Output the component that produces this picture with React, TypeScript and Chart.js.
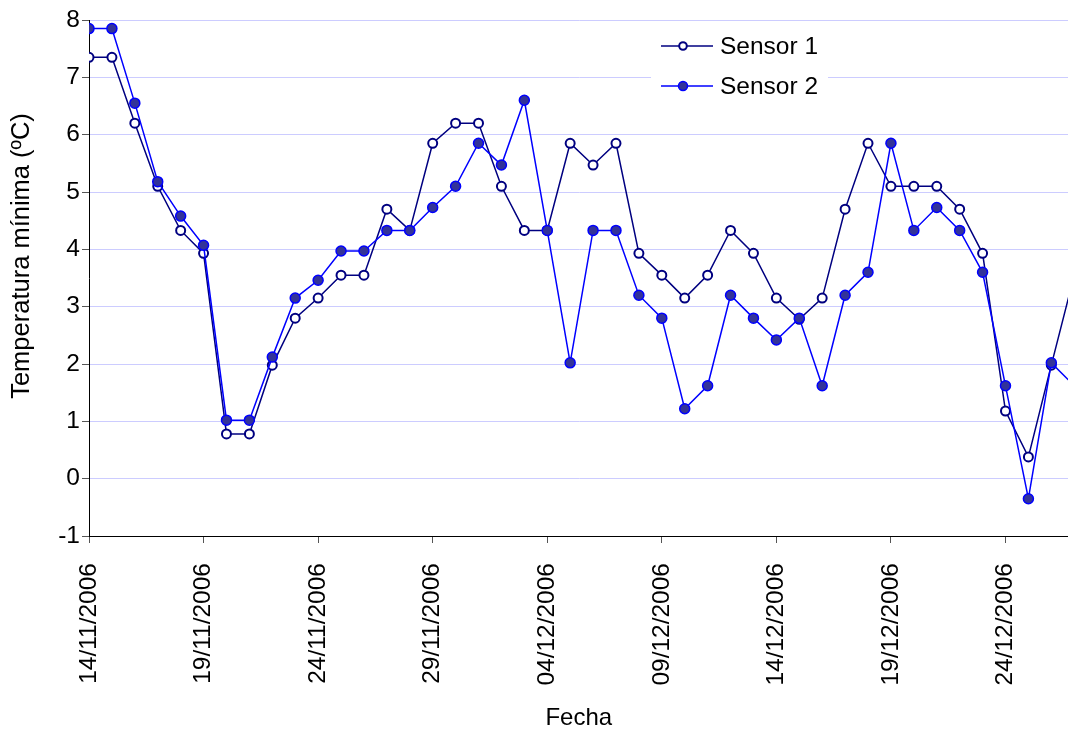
import React, { useEffect, useRef } from "react";
import { Chart, registerables } from "chart.js";

Chart.register(...registerables);

const fechas = [
  "14/11/2006", "15/11/2006", "16/11/2006", "17/11/2006", "18/11/2006",
  "19/11/2006", "20/11/2006", "21/11/2006", "22/11/2006", "23/11/2006",
  "24/11/2006", "25/11/2006", "26/11/2006", "27/11/2006", "28/11/2006",
  "29/11/2006", "30/11/2006", "01/12/2006", "02/12/2006", "03/12/2006",
  "04/12/2006", "05/12/2006", "06/12/2006", "07/12/2006", "08/12/2006",
  "09/12/2006", "10/12/2006", "11/12/2006", "12/12/2006", "13/12/2006",
  "14/12/2006", "15/12/2006", "16/12/2006", "17/12/2006", "18/12/2006",
  "19/12/2006", "20/12/2006", "21/12/2006", "22/12/2006", "23/12/2006",
  "24/12/2006", "25/12/2006", "26/12/2006", "27/12/2006",
];

const sensor1 = [
  7.35, 7.35, 6.2, 5.1, 4.33, 3.93, 0.78, 0.78, 1.98, 2.8,
  3.15, 3.55, 3.55, 4.7, 4.33, 5.85, 6.2, 6.2, 5.1, 4.33,
  4.33, 5.85, 5.47, 5.85, 3.93, 3.55, 3.15, 3.55, 4.33, 3.93,
  3.15, 2.78, 3.15, 4.7, 5.85, 5.1, 5.1, 5.1, 4.7, 3.93,
  1.18, 0.38, 1.98, 3.55,
];

const sensor2 = [
  7.85, 7.85, 6.55, 5.18, 4.58, 4.07, 1.02, 1.02, 2.12, 3.15,
  3.46, 3.97, 3.97, 4.33, 4.33, 4.73, 5.1, 5.85, 5.47, 6.6,
  4.33, 2.02, 4.33, 4.33, 3.2, 2.8, 1.22, 1.62, 3.2, 2.8,
  2.42, 2.8, 1.62, 3.2, 3.6, 5.85, 4.33, 4.73, 4.33, 3.6,
  1.62, -0.35, 2.02, 1.62,
];

const seriesNames = ["Sensor 1", "Sensor 2"];
const yTicks = [-1, 0, 1, 2, 3, 4, 5, 6, 7, 8];
const yTitle = "Temperatura mínima (ºC)";
const xTitle = "Fecha";

const FONT = "'Liberation Sans', Arial, sans-serif";

const insideLegend = {
  id: "insideLegend",
  afterDraw(chart: any) {
    const { ctx, chartArea } = chart;
    const x0 = chartArea.left + 562;
    const y0 = chartArea.top + 3;
    ctx.save();
    ctx.fillStyle = "#ffffff";
    ctx.fillRect(x0, y0, 177, 82);
    chart.data.datasets.forEach((ds: any, i: number) => {
      const y = y0 + 23 + i * 40;
      ctx.strokeStyle = ds.borderColor;
      ctx.lineWidth = 1.5;
      ctx.beginPath();
      ctx.moveTo(x0 + 10, y);
      ctx.lineTo(x0 + 62, y);
      ctx.stroke();
      ctx.beginPath();
      ctx.arc(x0 + 32, y, i === 0 ? 3.8 : 4.5, 0, Math.PI * 2);
      ctx.fillStyle = ds.pointBackgroundColor;
      ctx.fill();
      ctx.lineWidth = i === 0 ? 2 : 1.5;
      ctx.strokeStyle = ds.pointBorderColor;
      ctx.stroke();
      ctx.fillStyle = "#000000";
      ctx.font = `24.5px ${FONT}`;
      ctx.textBaseline = "middle";
      ctx.textAlign = "left";
      ctx.fillText(ds.label, x0 + 69, y + 1);
    });
    // y-axis title
    ctx.translate(22, chartArea.top + 236);
    ctx.rotate(-Math.PI / 2);
    ctx.font = `25.5px ${FONT}`;
    ctx.textAlign = "center";
    ctx.textBaseline = "middle";
    ctx.fillStyle = "#000000";
    ctx.fillText(yTitle, 0, 0);
    ctx.restore();
  },
};

export default function App() {
  const ref = useRef<HTMLCanvasElement | null>(null);

  useEffect(() => {
    if (!ref.current) return;
    const chart = new Chart(ref.current, {
      type: "line",
      data: {
        datasets: [
          {
            label: seriesNames[0],
            data: sensor1.map((v, i) => ({ x: i, y: v })),
            borderColor: "#000080",
            borderWidth: 1.5,
            pointBackgroundColor: "#ffffff",
            pointBorderColor: "#000080",
            pointBorderWidth: 2,
            pointRadius: 4.5,
            tension: 0,
            order: 1,
          },
          {
            label: seriesNames[1],
            data: sensor2.map((v, i) => ({ x: i, y: v })),
            borderColor: "#0000ff",
            borderWidth: 1.5,
            pointBackgroundColor: "#333399",
            pointBorderColor: "#0000ff",
            pointBorderWidth: 1.5,
            pointRadius: 5,
            tension: 0,
            order: 0,
          },
        ],
      },
      options: {
        animation: false,
        responsive: false,
        maintainAspectRatio: false,
        layout: { padding: { top: 20, left: 0, right: 0, bottom: 0 } },
        plugins: {
          legend: { display: false },
          tooltip: { enabled: false },
          title: { display: false },
        },
        scales: {
          x: {
            type: "linear",
            min: 0,
            max: 42.75,
            afterFit: (s: any) => {
              s.height = 194;
            },
            border: { display: true, color: "#000000", width: 1 },
            grid: {
              drawOnChartArea: false,
              drawTicks: true,
              tickLength: 7,
              tickColor: "#555555",
            },
            ticks: {
              stepSize: 5,
              includeBounds: false,
              autoSkip: false,
              minRotation: 90,
              maxRotation: 90,
              padding: 20,
              color: "#000000",
              font: { family: FONT, size: 24.5 },
              callback: (v: any) => (Number(v) % 5 === 0 ? fechas[Number(v)] : ""),
            },
            title: {
              display: true,
              text: xTitle,
              color: "#000000",
              font: { family: FONT, size: 24, lineHeight: 1 },
              padding: { top: 0, bottom: 0 },
            },
          },
          y: {
            min: yTicks[0],
            max: yTicks[yTicks.length - 1],
            afterFit: (s: any) => {
              s.width = 89;
            },
            border: { display: true, color: "#000000", width: 1 },
            grid: {
              color: (c: any) => (c.tick && c.tick.value === yTicks[0] ? "rgba(0,0,0,0)" : "#ccccff"),
              lineWidth: 1,
              drawTicks: true,
              tickLength: 7,
              tickColor: "#555555",
            },
            ticks: {
              stepSize: 1,
              padding: 2,
              color: "#000000",
              font: { family: FONT, size: 24.5 },
            },
            title: { display: false },
          },
        },
      },
      plugins: [insideLegend],
    });
    return () => chart.destroy();
  }, []);

  return (
    <div style={{ position: "absolute", left: 0, top: 0, width: 1068, height: 730, overflow: "hidden", background: "#fff" }}>
      <canvas ref={ref} width={1075} height={730} style={{ display: "block", width: 1075, height: 730 }} />
    </div>
  );
}
